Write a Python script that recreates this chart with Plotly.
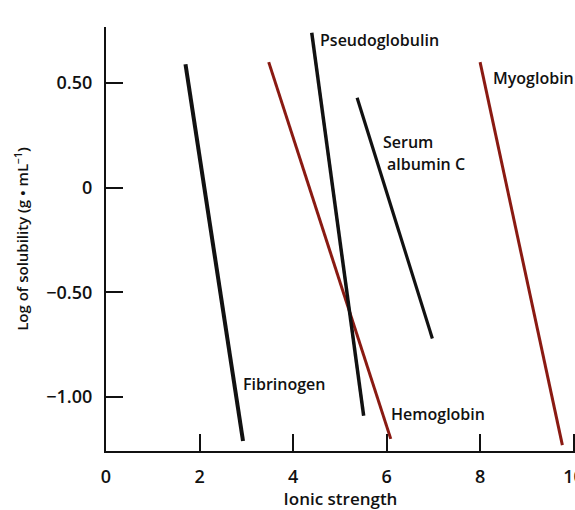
import plotly.graph_objects as go

# Solubility of proteins versus ionic strength: each protein is a straight segment
# given by its two end points (ionic strength, log solubility).
proteins = ["Fibrinogen", "Hemoglobin", "Pseudoglobulin", "Serum albumin C", "Myoglobin"]
ionic_start = [1.70, 3.48, 4.40, 5.37, 8.00]
ionic_end = [2.93, 6.09, 5.51, 6.98, 9.76]
logsol_start = [0.59, 0.60, 0.74, 0.43, 0.60]
logsol_end = [-1.21, -1.20, -1.09, -0.72, -1.23]
line_colors = ["#111111", "#8a1a12", "#111111", "#111111", "#8a1a12"]
line_widths = [4, 3, 3.5, 3.2, 3]

# Curve labels: text, anchor point (ionic strength, log solubility)
label_texts = ["Pseudoglobulin", "Myoglobin", "Serum", "albumin C", "Fibrinogen", "Hemoglobin"]
label_x = [4.53, 8.23, 5.88, 5.97, 2.89, 6.05]
label_y = [0.705, 0.525, 0.22, 0.115, -0.94, -1.08]

x_tickvals = [0, 2, 4, 6, 8, 10]
x_ticktext = ["0", "2", "4", "6", "8", "10"]
y_tickvals = [-1.0, -0.5, 0, 0.5]
y_ticktext = ["\u22121.00", "\u22120.50", "0", "0.50"]

FONT = "Open Sans, DejaVu Sans, sans-serif"
INK = "#111111"
W = 600

fig = go.Figure()
for name, x0, x1, y0, y1, c, w in zip(proteins, ionic_start, ionic_end,
                                      logsol_start, logsol_end, line_colors, line_widths):
    fig.add_trace(go.Scatter(
        x=[x0, x1], y=[y0, y1], mode="lines", name=name,
        line=dict(color=c, width=w), showlegend=False, hoverinfo="name",
    ))

for t, x, y in zip(label_texts, label_x, label_y):
    fig.add_annotation(
        x=x, y=y, text=t, showarrow=False, xanchor="left", yanchor="middle",
        font=dict(family=FONT, size=16, color=INK, weight=W),
    )

fig.update_layout(
    width=575, height=510,
    margin=dict(l=106, r=0, t=27, b=59),
    paper_bgcolor="white", plot_bgcolor="white",
    font=dict(family=FONT, size=16, color=INK, weight=W),
    xaxis=dict(
        range=[0, 10.03], tickvals=x_tickvals, ticktext=x_ticktext,
        automargin=False,
        ticks="inside", ticklen=17, tickwidth=2, tickcolor=INK,
        showline=True, linecolor=INK, linewidth=2, mirror=False,
        showgrid=False, zeroline=False, ticklabelstandoff=8,
        ticklabeloverflow="allow",
        tickfont=dict(family=FONT, size=18, color=INK, weight=W),
        title=dict(text="Ionic strength", standoff=6,
                   font=dict(family=FONT, size=17, color=INK, weight=W)),
    ),
    yaxis=dict(
        range=[-1.258, 0.768], tickvals=y_tickvals, ticktext=y_ticktext,
        automargin=False,
        ticks="inside", ticklen=17, tickwidth=2, tickcolor=INK,
        showline=True, linecolor=INK, linewidth=2, mirror=False,
        showgrid=False, zeroline=False, ticklabelstandoff=8,
        tickfont=dict(family=FONT, size=18, color=INK, weight=W),
        title=dict(text="Log of solubility (g \u2022 mL<sup>\u22121</sup>)", standoff=14,
                   font=dict(family=FONT, size=15, color=INK, weight=W)),
    ),
)

fig.write_html("out.html")
